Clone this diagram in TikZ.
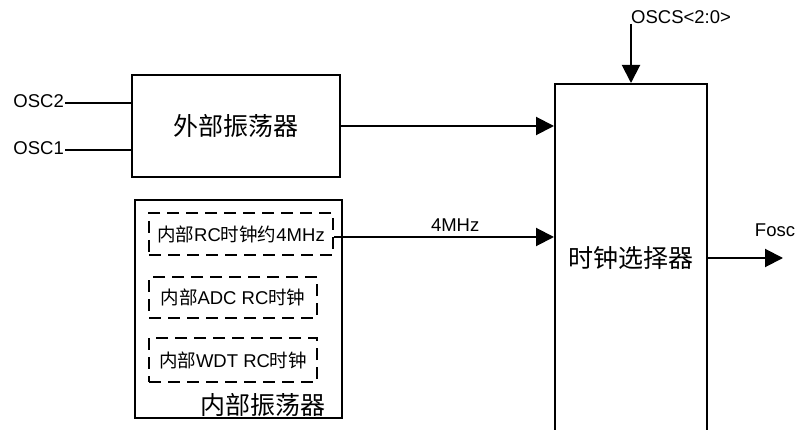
\documentclass[tikz,border=0pt]{standalone}
\usepackage{fontspec}
\setmainfont{Liberation Sans}
\newfontfamily\cjk{Noto Sans CJK SC}
\usetikzlibrary{arrows.meta,positioning}

\tikzset{
  blk/.style={draw, line width=2pt, inner sep=0pt},
  dbox/.style={draw, dash pattern=on 12pt off 7pt, line width=2.7pt, inner sep=0pt},
  lbl/.style={font=\fontsize{18.5}{20}\selectfont, inner sep=1pt},
  big/.style={font=\fontsize{25}{27}\selectfont\cjk},
  wire/.style={line width=2pt},
  arr/.style={line width=2pt, -{Triangle[length=18pt,width=18pt]}}
}

\begin{document}
\begin{tikzpicture}[x=1pt,y=-1pt]
\useasboundingbox (0,0) rectangle (797,430);

% External oscillator
\node[blk, minimum width=208pt, minimum height=102pt, big] (ext) at (236,126) {外部振荡器};

% Inputs
\node[lbl, anchor=east] (osc2) at (65,101) {OSC2};
\node[lbl, anchor=east] (osc1) at (65,148) {OSC1};
\draw[wire] ([yshift=-2pt]osc2.east) -- ([yshift=-2pt]osc2.east -| ext.west);
\draw[wire] ([yshift=-2pt]osc1.east) -- ([yshift=-2pt]osc1.east -| ext.west);

% Internal oscillators
\node[blk, minimum width=207pt, minimum height=218pt] (int) at (238.5,309) {};
\node[dbox, lbl, minimum width=184pt, minimum height=42pt] (rc) at (241,234) {{\cjk 内部}RC{\cjk 时钟约}4MHz};
\node[dbox, lbl, minimum width=168pt, minimum height=41pt] (adc) at (233,297.5) {{\cjk 内部}ADC RC{\cjk 时钟}};
\node[dbox, lbl, minimum width=168pt, minimum height=44pt] (wdt) at (233,360) {{\cjk 内部}WDT RC{\cjk 时钟}};
\node[big] (intlbl) at (263,405) {内部振荡器};

% Clock selector
\node[blk, minimum width=152pt, minimum height=348pt, big] (sel) at (631,258) {时钟选择器};

% Connections
\draw[arr] (ext.east) -- (ext.east -| sel.west);
\draw[arr] ([yshift=-3pt]rc.east) -- ([yshift=-3pt]rc.east -| sel.west)
  node[lbl, pos=0.55, above=3pt] (f4) {4MHz};

% Control input
\node[lbl, anchor=south west, inner sep=0pt] (oscs) at ([yshift=59pt]sel.north) {OSCS<2:0>};
\draw[arr] (oscs.south west) -- (sel.north);

% Output
\coordinate (out) at ([xshift=75pt]sel.east);
\draw[arr] (sel.east) -- (out);
\node[lbl] (fosc) at ([xshift=-8pt,yshift=28pt]out) {Fosc};

\end{tikzpicture}
\end{document}
